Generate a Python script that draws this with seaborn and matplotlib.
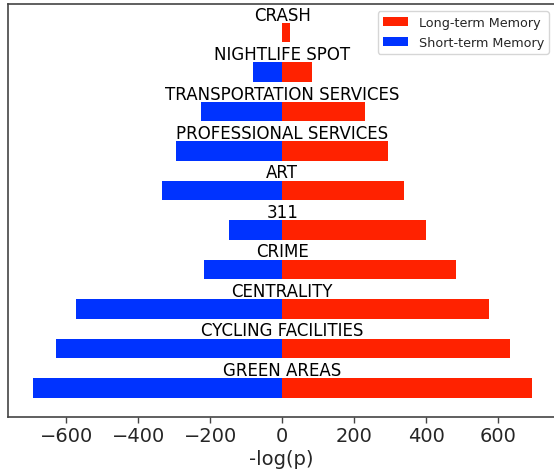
import matplotlib
matplotlib.use("Agg")
import matplotlib.pyplot as plt
import seaborn as sns
import pandas as pd

# Feature categories, top to bottom
categories = [
    "CRASH", "NIGHTLIFE SPOT", "TRANSPORTATION SERVICES", "PROFESSIONAL SERVICES",
    "ART", "311", "CRIME", "CENTRALITY", "CYCLING FACILITIES", "GREEN AREAS",
]
# -log(p) scores per memory type
long_term = [22, 82, 229, 295, 337, 399, 483, 574, 632, 694]
short_term = [0, 80, 227, 294, 334, 149, 216, 572, 629, 692]
series_names = ["Long-term Memory", "Short-term Memory"]
series_colors = ["#ff2200", "#0033ff"]
x_ticks = [-600, -400, -200, 0, 200, 400, 600]

sns.set_style("white")
plt.rcParams["font.family"] = ["DejaVu Sans"]

df = pd.DataFrame({
    "category": categories * 2,
    "value": long_term + [-v for v in short_term],
    "memory": [series_names[0]] * len(categories) + [series_names[1]] * len(categories),
})

fig = plt.figure(figsize=(5.54, 4.77), dpi=100)
# axes reach the right edge of the canvas; the right frame line is not drawn
ax = fig.add_axes([0.015, 0.1247, 0.985, 0.8648])

sns.barplot(
    data=df, x="value", y="category", hue="memory", order=categories,
    hue_order=series_names, palette=series_colors, dodge=False, width=0.5,
    saturation=1, linewidth=0, orient="h", ax=ax,
)

ax.set_xlim(-761, 755)
ax.set_ylim(len(categories) - 0.275, -0.725)

for i, name in enumerate(categories):
    ax.text(0, i - 0.33, name, ha="center", va="baseline", fontsize=12, color="black")

ax.set_yticks([])
ax.set_ylabel("")
ax.set_xlabel("-log(p)", fontsize=14, labelpad=3)
ax.set_xticks(x_ticks)
ax.tick_params(axis="x", labelsize=14, direction="out", length=4, width=1,
               color="#444444", bottom=True, pad=3)
for side in ["left", "top", "bottom"]:
    ax.spines[side].set_visible(True)
    ax.spines[side].set_color("#444444")
    ax.spines[side].set_linewidth(1.2)
ax.spines["right"].set_visible(False)

ax.legend(loc="upper right", fontsize=9.2, title=None, frameon=True,
          fancybox=True, edgecolor="#cccccc", borderaxespad=0,
          bbox_to_anchor=(549 / 554, 1 - 12 / 477), bbox_transform=fig.transFigure)

fig.savefig("out.png", dpi=100)
